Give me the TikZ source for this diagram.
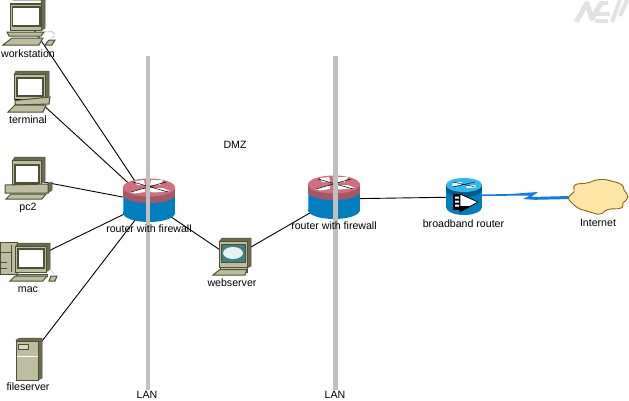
\documentclass[tikz,border=0pt]{standalone}
\usepackage{fontspec}
\setmainfont{Liberation Sans}
\definecolor{beige}{HTML}{BDBDA0}
\definecolor{beigel}{HTML}{D8D8C0}
\definecolor{drk}{HTML}{4F4F36}
\definecolor{rpink}{HTML}{CF6F80}
\definecolor{rdark}{HTML}{A85565}
\definecolor{rblue}{HTML}{007FBF}
\definecolor{rlight}{HTML}{30B8F0}
\definecolor{barg}{HTML}{C0C0C0}
\definecolor{cloudf}{HTML}{FFE6A6}
\definecolor{cloudd}{HTML}{8B6508}
\definecolor{bolt}{HTML}{0A7CF0}
\definecolor{wmark}{HTML}{E2E2E2}
\tikzset{
  x=1pt,y=-1pt,
  link/.style={draw=black,line width=.9pt},
  lanbar/.style={draw=barg,line width=4.5pt},
  lbl/.style={font=\fontsize{10.6}{12}\selectfont,inner sep=0pt,text=black},
  body/.style={fill=beige,draw=drk,line width=1pt},
  side/.style={fill=drk!75!beige,draw=drk,line width=.5pt},
  scr/.style={fill=white,draw=drk,line width=1.3pt},
  router/.pic={
    \fill[rblue] (-26,-10) rectangle (26,11);
    \fill[rblue] (0,11) ellipse [x radius=26,y radius=9];
    \fill[rlight] (-26,-7) rectangle (-25,10);
    \fill[rdark] (-26,-15) rectangle (26,-7);
    \fill[rdark] (0,-7) ellipse [x radius=26,y radius=8];
    \fill[rpink] (0,-14.5) ellipse [x radius=26,y radius=9];
    \fill[white] (-19,-10) -- (-8,-13) -- (-4,-13.5) -- (-4,-10) -- (-14,-8.5) -- cycle;
    \fill[white] (-14,-21) -- (-5,-22) -- (-4,-17) -- (-12,-17) -- cycle;
    \fill[white] (1,-17) -- (2,-22) -- (14,-22) -- (11,-17) -- cycle;
    \fill[white] (1,-14) -- (14,-14) -- (21,-11) -- (6,-9.5) -- (1,-10) -- cycle;
    \draw[black,line width=.5pt] (-18,-10) -- (17,-20) (-16,-20) -- (19,-10);
  },
  broadrouter/.pic={
    \fill[rblue] (-18,-10) rectangle (18,10);
    \fill[rblue] (0,10) ellipse [x radius=18,y radius=8];
    \fill[rblue!70!black] (-18,-12) rectangle (18,-7);
    \fill[rblue!70!black] (0,-7) ellipse [x radius=18,y radius=7];
    \fill[rlight] (0,-12) ellipse [x radius=18,y radius=7];
    \fill[white] (-11,-14) -- (-2,-15) -- (-3,-12) -- (-12,-11) -- cycle;
    \fill[white] (2,-11) -- (11,-12) -- (12,-9.5) -- (3,-9) -- cycle;
    \draw[black,line width=.4pt] (-11,-10) -- (11,-15) (-11,-15) -- (11,-10);
    \fill[black] (-11,-3) rectangle (-4,13);
    \fill[white] (-9,-.5) rectangle (-5,1.5) (-9,3.5) rectangle (-5,5.5) (-9,7.5) rectangle (-5,9.5);
    \fill[white,draw=black,line width=.8pt] (-4,-3) -- (14,5) -- (-4,15) -- cycle;
    \fill[black] (-4,9) -- (7,9) -- (-4,15) -- cycle;
  },
}
\begin{document}
\begin{tikzpicture}
\useasboundingbox (0,0) rectangle (629,400);
\fill[white] (0,0) rectangle (629,400);
% anchors of the devices
\coordinate (wk) at (28,21);
\coordinate (tm) at (28,91);
\coordinate (pc) at (28,179);
\coordinate (mc) at (28,261);
\coordinate (fs) at (29,358);
\coordinate (r1) at (149,202);
\coordinate (ws) at (232,258);
\coordinate (r2) at (334,199);
\coordinate (br) at (464,197);
\coordinate (in) at (598,197);
\coordinate (lt1) at (148,56);
\coordinate (lb1) at (148,390);
\coordinate (lt2) at (335.5,56);
\coordinate (lb2) at (335.5,390);
% connectors
\draw[link] (wk) -- (r1);
\draw[link] (tm) -- (r1);
\draw[link] (pc) -- (r1);
\draw[link] (mc) -- (r1);
\draw[link] (fs) -- (r1);
\draw[link] (r1) -- (ws);
\draw[link] (ws) -- (r2);
\draw[link] (r2) -- (br);
% workstation
\fill[side] (13,0) -- (45,0) -- (45,28) -- (41,31) -- (41,0) -- cycle;
\draw[body] (10,3) rectangle (41,30);
\fill[drk] (10,3) rectangle (41,5);
\draw[scr] (12.5,7) rectangle (40,26);
\draw[body] (7,32) -- (44,32) -- (41,36) -- (9,36) -- cycle;
\draw[body] (12,38) -- (43,38) -- (39,45) -- (3,45) -- cycle;
\draw[body] (49,40) -- (55,40) -- (52,45) -- (45,45) -- cycle;
\draw[gray,densely dotted,line width=.6pt] (45,32) .. controls (56,29) and (56,36) .. (51,39);
% terminal
\draw[side] (16,71) -- (49,71) -- (49,97) -- (45,100) -- (45,75) -- (14,75) -- cycle;
\draw[body] (14,74) rectangle (45,99);
\draw[scr] (17,78) rectangle (43,96);
\fill[black] (15,98.5) rectangle (46,100);
\draw[body] (15,100.5) -- (50,97) -- (49,104) -- (15,105) -- cycle;
\draw[body] (15,105) -- (46,105) -- (43,112) -- (8,112) -- cycle;
% pc2
\draw[side] (15,157) -- (45,157) -- (45,181) -- (41,183) -- (41,161) -- (12,161) -- cycle;
\draw[body] (12,160) rectangle (41,184);
\draw[scr] (15,165) rectangle (39,183);
\draw[side] (48,184) -- (52,182) -- (52,190) -- (48,193) -- cycle;
\draw[body] (5,185) -- (48,184) -- (48,193) -- (5,193) -- cycle;
\draw[body] (11,194) -- (46,194) -- (42,199) -- (6,199) -- cycle;
% mac
\draw[body] (0,242) rectangle (17,274);
\draw[drk,line width=.7pt] (1,252) -- (11,252) (1,262) -- (7,262) (1,268) -- (7,268) (11,245) -- (11,272);
\draw[side] (18,243) -- (50,243) -- (50,269) -- (46,272) -- (46,247) -- (15,247) -- cycle;
\draw[body] (15,246) rectangle (46,272);
\draw[scr] (18,249) rectangle (44,268);
\draw[body] (16,274) -- (47,274) -- (47,276) -- (16,276) -- cycle;
\draw[body] (15,276) -- (47,276) -- (43,281) -- (10,281) -- cycle;
\draw[body] (51,276) -- (57,276) -- (55,281) -- (49,281) -- cycle;
\draw[gray,densely dotted,line width=.6pt] (48,268) .. controls (52,270) and (54,273) .. (54,275);
% fileserver
\draw[side] (16,340) -- (20,338) -- (42,338) -- (42,378) -- (38,380) -- cycle;
\draw[body] (16,341) rectangle (38,380);
\draw[fill=beigel,draw=drk,line width=.6pt] (18,344) rectangle (28,349);
\draw[white,line width=.8pt] (17,356.5) -- (37.5,356.5);
% webserver
\draw[side] (222,238) -- (251,238) -- (251,266) -- (247,268) -- (247,242) -- (219,242) -- cycle;
\draw[body] (219,241) rectangle (247,267);
\draw[fill=teal!50!gray,draw=drk,line width=1pt] (221,244) rectangle (245,262);
\fill[white!90!teal] (233,253) ellipse [x radius=10,y radius=6];
\draw[body] (220,267) -- (247,267) -- (247,272) -- (220,272) -- cycle;
\draw[body] (220,269.5) -- (247,269.5) -- (245,275) -- (213,275) -- cycle;
% routers
\pic at (r1) {router};
\pic at (r2) {router};
\pic at (br) {broadrouter};
% serial link
\fill[bolt] (482,194.5) -- (510,194) -- (538,192) -- (531,197) -- (570,196) -- (570,199) -- (535,199.8) -- (523,199) -- (530,195.5) -- (482,196) -- cycle;
% cloud
\draw[fill=cloudf,draw=cloudd,line width=.9pt] plot[smooth cycle,tension=.85] coordinates {
 (568.5,197) (574,192) (575,185) (587,183) (600,179.5) (613,181.5) (622,185) (624,190) (628,197)
 (623,203) (621,208) (608,209.5) (600,214) (590,212) (580,209) (572,203)};
% LAN bars
\draw[lanbar] (lt1) -- (lb1);
\draw[lanbar] (lt2) -- (lb2);
% watermark
\draw[wmark,line width=5pt,line join=round] (576,22) -- (587,3) -- (592,19) -- (601,3);
\draw[wmark,line width=3.5pt] (595,21) -- (608,21) (593,14) -- (610,14) (600,3) -- (608,3);
\draw[wmark,line width=4pt] (612,22) -- (620,0) (620,16) -- (627,0);
% labels
\node[lbl] (tw) at (28,54) {workstation};
\node[lbl] (tt) at (28,120) {terminal};
\node[lbl] (tp) at (28,208) {pc2};
\node[lbl] (tm2) at (28,290) {mac};
\node[lbl] (tf) at (28,387) {fileserver};
\node[lbl] (ta) at (149,229) {router with firewall};
\node[lbl] (tb) at (334,226) {router with firewall};
\node[lbl] (tc) at (232,283) {webserver};
\node[lbl] (td) at (463.5,224) {broadband router};
\node[lbl] (te) at (598,223) {Internet};
\node[lbl] (tz) at (235,145) {DMZ};
\node[lbl] (tl1) at (147,394.5) {LAN};
\node[lbl] (tl2) at (335,394.5) {LAN};
\end{tikzpicture}
\end{document}
